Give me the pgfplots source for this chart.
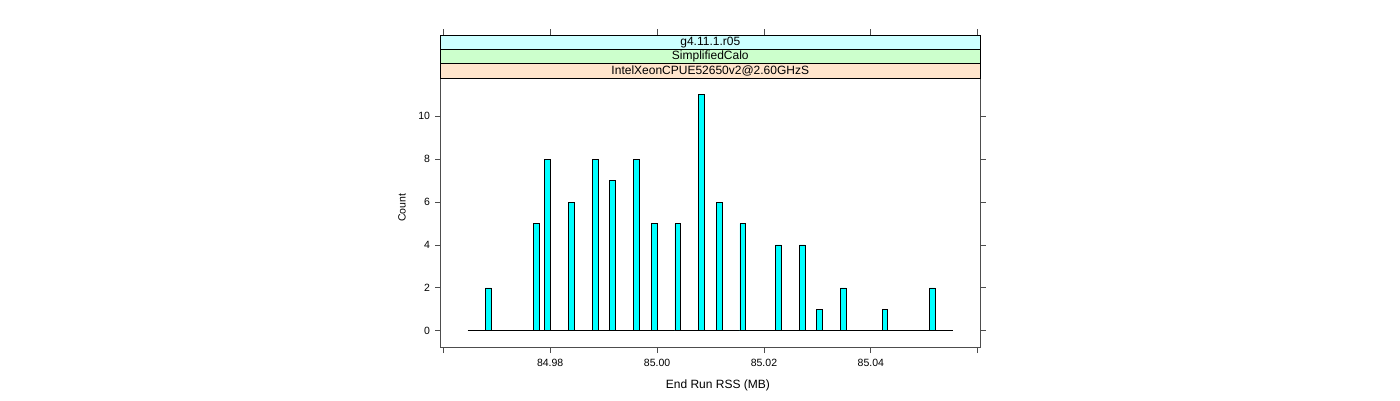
\documentclass[border=0pt]{standalone}
\usepackage{fontspec}
\setmainfont{Liberation Sans}
\usepackage{pgfplots}
\pgfplotsset{compat=1.18}
\definecolor{stripcyan}{HTML}{CCFFFF}
\definecolor{stripgreen}{HTML}{CCFFCC}
\definecolor{strippeach}{HTML}{FFE5CC}
\definecolor{barcyan}{HTML}{00FFFF}
\definecolor{axgray}{HTML}{4D4D4D}
\begin{document}
\begin{tikzpicture}
\useasboundingbox (0pt,0pt) rectangle (1400pt,400pt);
\begin{axis}[
  at={(440.7pt,52.7pt)}, anchor=south west,
  scale only axis, width=539.3pt, height=269pt,
  xmin=84.95951, xmax=85.06043, ymin=-0.77, ymax=11.77,
  axis line style={axgray, line width=0.8pt},
  tick style={axgray, line width=0.8pt},
  tick align=outside, major tick length=5.7pt,
  xtick pos=lower, ytick pos=both, yticklabel pos=left,
  xtick={84.96,84.98,85.00,85.02,85.04,85.06},
  xticklabels={,84.98,85.00,85.02,85.04,},
  ytick={0,2,4,6,8,10},
  /pgf/number format/assume math mode=true,
  ticklabel style={font=\fontsize{10.5}{12}\selectfont, text=black},
  xticklabel style={yshift=-2.5pt},
  yticklabel style={xshift=-1.5pt},
  xlabel={End Run RSS (MB)}, ylabel={Count},
  xlabel style={font=\fontsize{12}{14}\selectfont, at={(axis description cs:0.514,-0.140)}, anchor=center},
  ylabel style={font=\fontsize{10.5}{12}\selectfont, at={(axis description cs:-0.0718,0.518)}, anchor=center},
]
\addplot[black, line width=0.8pt] coordinates {(84.96457,0) (85.05543,0)};
\addplot[ybar, bar width=5.7pt, fill=barcyan, draw=black, line width=0.7pt] coordinates {
(84.96842,2) (84.97735,5) (84.97950,8) (84.98399,6) (84.98842,8) (84.99166,7)
(84.99615,8) (84.99952,5) (85.00388,5) (85.00832,11) (85.01168,6) (85.01604,5)
(85.02272,4) (85.02716,4) (85.03043,1) (85.03483,2) (85.04265,1) (85.05154,2)};
\end{axis}
\draw[black, line width=0.8pt, fill=strippeach] (440.7pt,321.7pt) rectangle (980pt,336.7pt);
\draw[black, line width=0.8pt, fill=stripgreen] (440.7pt,336.7pt) rectangle (980pt,350.7pt);
\draw[black, line width=0.8pt, fill=stripcyan] (440.7pt,350.7pt) rectangle (980pt,365pt);
\node[font=\fontsize{12}{14}\selectfont, inner sep=0pt] at (710.3pt,329.2pt) {IntelXeonCPUE52650v2@2.60GHzS};
\node[font=\fontsize{12}{14}\selectfont, inner sep=0pt] at (710.3pt,343.7pt) {SimplifiedCalo};
\node[font=\fontsize{12}{14}\selectfont, inner sep=0pt] at (710.3pt,357.9pt) {g4.11.1.r05};
\begin{axis}[
  at={(440.7pt,365pt)}, anchor=south west,
  scale only axis, width=539.3pt, height=5.7pt,
  xmin=84.95951, xmax=85.06043, ymin=0, ymax=1,
  axis x line=bottom, axis y line=none,
  axis line style={draw=none, -},
  tick style={axgray, line width=0.8pt},
  tick align=inside, major tick length=5.7pt,
  xtick={84.96,84.98,85.00,85.02,85.04,85.06},
  xticklabels={}, ytick=\empty,
]
\end{axis}
\end{tikzpicture}
\end{document}
